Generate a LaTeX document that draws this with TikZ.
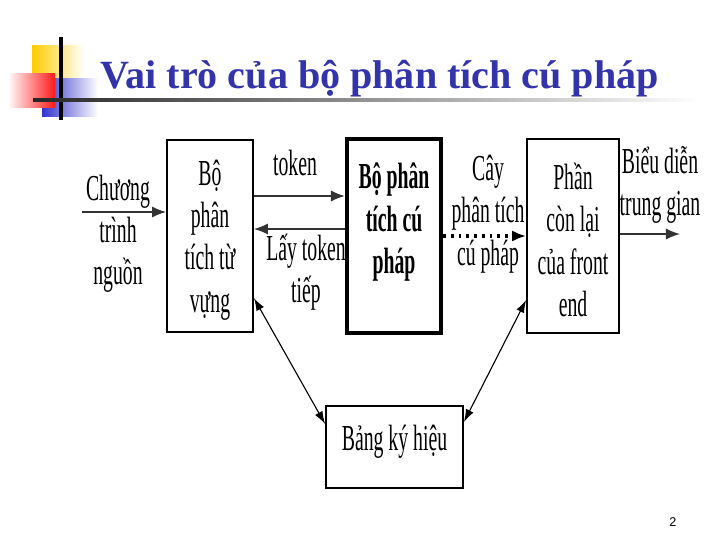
\documentclass[tikz,border=0pt]{standalone}
\usepackage{fontspec}
\setmainfont{Liberation Serif}
\newfontfamily\narrowfont[FakeStretch=0.54]{Liberation Serif}
\newfontfamily\pagefont{Liberation Sans}
\usepackage{xcolor}
\usepackage{tikz}
\usetikzlibrary{positioning,arrows.meta}
\definecolor{titleblue}{RGB}{51,51,170}
\definecolor{decoyellow}{RGB}{255,204,0}
\definecolor{decoblue}{RGB}{51,51,204}

\begin{document}
\begin{tikzpicture}[
    x=0.025cm, y=-0.025cm,
    box/.style={draw, rectangle, line width=1.3pt, inner sep=0pt},
    thickbox/.style={box, line width=3pt},
    lbl/.style={align=center, font=\narrowfont\fontsize{26}{30}\selectfont, inner sep=1pt},
    arr/.style={-{Latex[length=10pt,width=8pt]}, line width=1.1pt, black!80},
    twoway/.style={{Latex[length=9pt,width=6pt]}-{Latex[length=9pt,width=6pt]}, line width=0.8pt}
]
    \useasboundingbox (0,0) rectangle (720,540);

    % slide decoration
    \shade[left color=decoyellow, middle color=decoyellow, right color=white]
        (32,45) rectangle (84,97);
    \shade[left color=decoblue, middle color=decoblue, right color=white]
        (42,78) rectangle (98,116);
    \shade[left color=red!5, right color=red!90]
        (10,73) rectangle (55,107);
    \draw[line width=2.2pt] (61,37) -- (61,120);
    \shade[left color=black!85, right color=white] (33,98.5) rectangle (700,101.5);

    % title
    \node[anchor=base west, inner sep=0pt, text=titleblue,
          font=\bfseries\fontsize{28.5}{32}\selectfont] (title) at (100,88)
        {Vai trò của bộ phân tích cú pháp};

    % boxes
    \node[box, minimum width=2.15cm, minimum height=4.8cm] (lexer) at (210,236) {};
    \node[lbl] (lexertxt) at (210,240) {Bộ\\phân\\tích từ\\vựng};

    \node[thickbox, minimum width=2.35cm, minimum height=4.85cm] (parser) at (394,236) {};
    \node[lbl, font=\narrowfont\bfseries\fontsize{26}{30}\selectfont] (parsertxt) at (394,222)
        {Bộ phân\\tích cú\\pháp};

    \node[box, minimum width=2.3cm, minimum height=4.85cm] (rest) at (573,236) {};
    \node[lbl] (resttxt) at (573,240) {Phần\\còn lại\\của front\\end};

    \node[box, minimum width=3.425cm, minimum height=2.05cm] (table) at (394.5,447) {};
    \node[lbl] (tabletxt) at (394.5,442) {Bảng ký hiệu};

    % connectors
    \coordinate (src) at (82,212);
    \coordinate (out) at (680,234);
    \draw[arr] (src) -- ([yshift=0.6cm]lexer.west);
    \node[lbl] (srclbl) at (118,234) {Chương\\trình\\nguồn};

    \draw[arr] ([yshift=1cm]lexer.east) -- ([yshift=1cm]parser.west);
    \node[lbl] (toklbl) at (295,163) {token};

    \draw[arr] ([yshift=0.175cm]parser.west) -- ([yshift=0.175cm]lexer.east);
    \node[lbl] (nextlbl) at (306,272) {Lấy token\\tiếp};

    \draw[arr, line width=2.4pt, dash pattern=on 2pt off 3.5pt, black] (parser.east) -- (rest.west);
    \node[lbl] (treelbl) at (488,214) {Cây\\phân tích\\cú pháp};

    \draw[arr] ([yshift=0.05cm]rest.east) -- (out);
    \node[lbl] (irlbl) at (660,185) {Biểu diễn\\trung gian};

    \draw[twoway] ([yshift=-1.55cm]lexer.east) -- ([yshift=0.575cm]table.west);
    \draw[twoway] ([yshift=-1.6cm]rest.west) -- ([yshift=0.625cm]table.east);

    % page number
    \node[font=\pagefont\fontsize{9}{10}\selectfont] (pagenum) at (673,522) {2};
\end{tikzpicture}
\end{document}
